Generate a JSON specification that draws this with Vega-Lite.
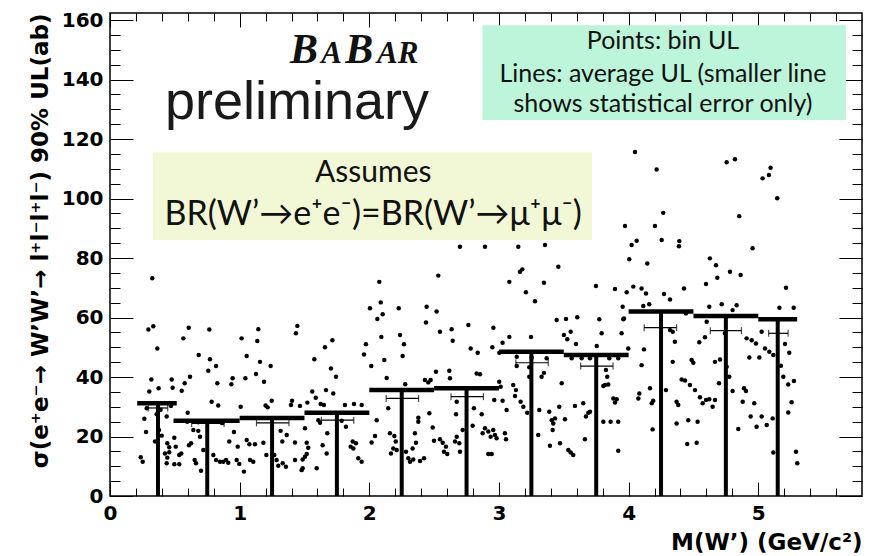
{
  "$schema": "https://vega.github.io/schema/vega-lite/v6.json",
  "width": 752,
  "height": 483,
  "autosize": {"type": "none"},
  "padding": {"left": 110, "top": 13, "right": 10, "bottom": 60},
  "background": "white",
  "config": {
    "view": {"stroke": "black", "strokeWidth": 1.5},
    "axis": {"domain": false, "grid": false, "tickColor": "black", "tickWidth": 1, "tickOpacity": 1, "labelColor": "black", "titleColor": "black", "labelFont": "DejaVu Sans", "labelFontWeight": "bold", "labelFontSize": 20, "labelFlush": false, "titleFont": "DejaVu Sans", "titleFontWeight": "bold", "titleFontSize": 23}
  },
  "datasets": {
    "bins": [
      {"c": 0.37, "lo": 0.21, "hi": 0.515, "base": 0, "avg": 31.2, "stat": 29.6, "s1": 0.295, "s2": 0.445},
      {"c": 0.75, "lo": 0.49, "hi": 1.0, "base": 0, "avg": 25.3, "stat": 24.4, "s1": 0.63, "s2": 0.88},
      {"c": 1.25, "lo": 1.0, "hi": 1.5, "base": 0, "avg": 26.2, "stat": 24.6, "s1": 1.13, "s2": 1.38},
      {"c": 1.75, "lo": 1.5, "hi": 2.0, "base": 0, "avg": 28.0, "stat": 25.5, "s1": 1.63, "s2": 1.88},
      {"c": 2.25, "lo": 2.0, "hi": 2.5, "base": 0, "avg": 35.6, "stat": 32.8, "s1": 2.13, "s2": 2.38},
      {"c": 2.75, "lo": 2.5, "hi": 3.0, "base": 0, "avg": 36.2, "stat": 33.4, "s1": 2.63, "s2": 2.88},
      {"c": 3.25, "lo": 3.0, "hi": 3.5, "base": 0, "avg": 48.5, "stat": 44.8, "s1": 3.13, "s2": 3.38},
      {"c": 3.75, "lo": 3.5, "hi": 4.0, "base": 0, "avg": 47.4, "stat": 43.7, "s1": 3.63, "s2": 3.88},
      {"c": 4.25, "lo": 4.0, "hi": 4.5, "base": 0, "avg": 62.0, "stat": 56.6, "s1": 4.12, "s2": 4.37},
      {"c": 4.75, "lo": 4.5, "hi": 5.0, "base": 0, "avg": 60.5, "stat": 55.6, "s1": 4.63, "s2": 4.87},
      {"c": 5.15, "lo": 5.0, "hi": 5.3, "base": 0, "avg": 59.4, "stat": 54.7, "s1": 5.08, "s2": 5.23}
    ],
    "pts": [
      {"m":0.326,"ul":73.2},{"m":0.296,"ul":56.0},{"m":0.334,"ul":57.1},{"m":0.365,"ul":49.6},{"m":0.319,"ul":39.2},{"m":0.303,"ul":35.1},{"m":0.375,"ul":36.2},{"m":0.476,"ul":39.2},{"m":0.483,"ul":36.4},{"m":0.265,"ul":26.0},{"m":0.278,"ul":21.5},{"m":0.237,"ul":13.0},{"m":0.252,"ul":11.5},{"m":0.347,"ul":18.3},{"m":0.378,"ul":22.2},{"m":0.399,"ul":20.3},{"m":0.442,"ul":17.7},{"m":0.457,"ul":16.4},{"m":0.424,"ul":14.3},{"m":0.457,"ul":14.7},{"m":0.442,"ul":12.9},{"m":0.437,"ul":11.0},{"m":0.496,"ul":19.6},{"m":0.507,"ul":16.6},{"m":0.496,"ul":10.7},{"m":0.283,"ul":29.5},{"m":0.437,"ul":26.7},{"m":0.36,"ul":27.5},{"m":0.39,"ul":29.0},{"m":0.47,"ul":30.3},
      {"m":0.553,"ul":35.4},{"m":0.576,"ul":37.9},{"m":0.617,"ul":40.1},{"m":0.566,"ul":53.0},{"m":0.607,"ul":56.6},{"m":0.684,"ul":47.4},{"m":0.766,"ul":56.0},{"m":0.771,"ul":46.0},{"m":0.818,"ul":43.7},{"m":0.758,"ul":42.1},{"m":0.828,"ul":37.9},{"m":0.784,"ul":31.7},{"m":0.835,"ul":30.4},{"m":0.599,"ul":28.0},{"m":0.946,"ul":39.6},{"m":0.936,"ul":37.6},{"m":0.534,"ul":10.7},{"m":0.534,"ul":13.8},{"m":0.55,"ul":14.3},{"m":0.596,"ul":25.0},{"m":0.609,"ul":17.1},{"m":0.625,"ul":17.7},{"m":0.643,"ul":22.2},{"m":0.681,"ul":21.9},{"m":0.694,"ul":19.9},{"m":0.653,"ul":12.1},{"m":0.663,"ul":11.0},{"m":0.702,"ul":8.5},{"m":0.72,"ul":15.5},{"m":0.797,"ul":13.8},{"m":0.818,"ul":12.1},{"m":0.848,"ul":11.5},{"m":0.874,"ul":11.5},{"m":0.895,"ul":12.1},{"m":0.912,"ul":11.2},{"m":0.92,"ul":18.3},{"m":0.956,"ul":21.5},{"m":0.985,"ul":16.6},{"m":0.977,"ul":12.1},{"m":0.997,"ul":10.8},{"m":0.68,"ul":24.8},{"m":0.865,"ul":24.5},
      {"m":1.015,"ul":53.0},{"m":1.054,"ul":47.1},{"m":1.144,"ul":56.1},{"m":1.136,"ul":52.1},{"m":1.157,"ul":45.1},{"m":1.126,"ul":41.0},{"m":1.188,"ul":38.4},{"m":1.044,"ul":39.6},{"m":1.008,"ul":30.0},{"m":1.2,"ul":30.4},{"m":1.216,"ul":29.8},{"m":1.239,"ul":43.7},{"m":1.247,"ul":32.0},{"m":1.445,"ul":57.2},{"m":1.434,"ul":54.7},{"m":1.404,"ul":32.0},{"m":1.396,"ul":30.6},{"m":1.465,"ul":30.3},{"m":1.033,"ul":8.2},{"m":1.054,"ul":18.8},{"m":1.075,"ul":17.4},{"m":1.118,"ul":17.4},{"m":1.08,"ul":12.1},{"m":1.105,"ul":11.5},{"m":1.183,"ul":17.9},{"m":1.206,"ul":13.8},{"m":1.267,"ul":13.8},{"m":1.285,"ul":12.1},{"m":1.298,"ul":10.2},{"m":1.316,"ul":21.9},{"m":1.329,"ul":18.3},{"m":1.363,"ul":20.5},{"m":1.332,"ul":11.0},{"m":1.357,"ul":9.8},{"m":1.427,"ul":18.0},{"m":1.427,"ul":12.1},{"m":1.478,"ul":8.7},{"m":1.486,"ul":12.3},
      {"m":1.522,"ul":31.4},{"m":1.517,"ul":17.9},{"m":1.517,"ul":14.1},{"m":1.576,"ul":46.0},{"m":1.658,"ul":50.0},{"m":1.715,"ul":52.4},{"m":1.704,"ul":42.9},{"m":1.743,"ul":40.1},{"m":1.56,"ul":35.1},{"m":1.587,"ul":33.0},{"m":1.666,"ul":35.6},{"m":1.722,"ul":34.5},{"m":1.625,"ul":30.9},{"m":1.65,"ul":30.6},{"m":1.812,"ul":30.6},{"m":1.882,"ul":30.9},{"m":1.941,"ul":30.6},{"m":1.504,"ul":22.8},{"m":1.607,"ul":25.5},{"m":1.676,"ul":21.1},{"m":1.62,"ul":24.6},{"m":1.529,"ul":16.2},{"m":1.504,"ul":13.2},{"m":1.486,"ul":9.3},{"m":1.594,"ul":9.3},{"m":1.64,"ul":17.1},{"m":1.671,"ul":14.3},{"m":1.787,"ul":25.3},{"m":1.82,"ul":23.3},{"m":1.872,"ul":18.3},{"m":1.897,"ul":17.7},{"m":1.877,"ul":16.0},{"m":1.856,"ul":16.6},{"m":1.915,"ul":12.7},{"m":1.941,"ul":11.5},
      {"m":2.077,"ul":72.0},{"m":2.005,"ul":63.1},{"m":2.088,"ul":65.1},{"m":2.062,"ul":59.5},{"m":2.103,"ul":61.1},{"m":2.227,"ul":63.1},{"m":2.237,"ul":54.1},{"m":2.093,"ul":53.5},{"m":2.267,"ul":51.0},{"m":2.257,"ul":47.1},{"m":1.974,"ul":51.0},{"m":1.959,"ul":47.6},{"m":2.015,"ul":43.7},{"m":2.116,"ul":45.7},{"m":2.134,"ul":39.7},{"m":2.277,"ul":37.6},{"m":2.442,"ul":63.6},{"m":2.437,"ul":58.3},{"m":2.429,"ul":39.0},{"m":2.455,"ul":38.2},{"m":2.473,"ul":39.0},{"m":2.018,"ul":18.0},{"m":2.044,"ul":20.2},{"m":2.057,"ul":25.5},{"m":2.146,"ul":29.5},{"m":2.159,"ul":21.1},{"m":2.193,"ul":20.2},{"m":2.204,"ul":18.3},{"m":2.185,"ul":16.0},{"m":2.167,"ul":14.3},{"m":2.211,"ul":15.5},{"m":2.283,"ul":14.9},{"m":2.301,"ul":12.7},{"m":2.314,"ul":11.5},{"m":2.339,"ul":12.3},{"m":2.352,"ul":21.1},{"m":2.36,"ul":17.9},{"m":2.334,"ul":16.0},{"m":2.378,"ul":26.3},{"m":2.378,"ul":25.0},{"m":2.391,"ul":11.8},{"m":2.422,"ul":12.7},{"m":2.463,"ul":27.8},{"m":2.489,"ul":23.0},{"m":2.499,"ul":18.6},
      {"m":2.532,"ul":74.1},{"m":2.519,"ul":62.0},{"m":2.545,"ul":55.2},{"m":2.635,"ul":56.1},{"m":2.643,"ul":52.2},{"m":2.764,"ul":57.5},{"m":2.782,"ul":49.6},{"m":2.836,"ul":48.2},{"m":2.957,"ul":56.6},{"m":2.949,"ul":50.0},{"m":2.514,"ul":41.8},{"m":2.617,"ul":42.1},{"m":2.622,"ul":39.6},{"m":2.828,"ul":41.2},{"m":2.854,"ul":40.9},{"m":2.545,"ul":19.1},{"m":2.566,"ul":17.9},{"m":2.591,"ul":16.6},{"m":2.576,"ul":14.9},{"m":2.601,"ul":14.1},{"m":2.661,"ul":18.3},{"m":2.674,"ul":19.9},{"m":2.694,"ul":17.7},{"m":2.669,"ul":27.5},{"m":2.674,"ul":31.7},{"m":2.72,"ul":22.2},{"m":2.699,"ul":14.9},{"m":2.807,"ul":29.5},{"m":2.797,"ul":23.6},{"m":2.867,"ul":27.5},{"m":2.874,"ul":21.1},{"m":2.892,"ul":22.8},{"m":2.918,"ul":21.7},{"m":2.936,"ul":19.9},{"m":2.918,"ul":14.1},{"m":2.944,"ul":14.1},{"m":2.964,"ul":32.3},{"m":2.956,"ul":22.2},{"m":2.969,"ul":20.5},{"m":2.982,"ul":19.4},{"m":2.699,"ul":83.8},{"m":2.892,"ul":83.8},
      {"m":3.003,"ul":48.2},{"m":3.08,"ul":72.0},{"m":3.162,"ul":75.4},{"m":3.18,"ul":76.2},{"m":3.208,"ul":68.5},{"m":3.278,"ul":65.5},{"m":3.347,"ul":71.7},{"m":3.458,"ul":77.1},{"m":3.445,"ul":59.2},{"m":3.247,"ul":53.5},{"m":3.08,"ul":53.5},{"m":3.028,"ul":51.5},{"m":3.501,"ul":54.1},{"m":3.137,"ul":46.8},{"m":3.252,"ul":46.5},{"m":3.368,"ul":46.3},{"m":3.137,"ul":43.7},{"m":3.234,"ul":43.3},{"m":3.329,"ul":40.1},{"m":3.347,"ul":41.4},{"m":3.234,"ul":40.1},{"m":3.002,"ul":38.4},{"m":3.013,"ul":36.7},{"m":3.11,"ul":37.3},{"m":3.131,"ul":35.6},{"m":3.124,"ul":33.6},{"m":3.484,"ul":37.9},{"m":3.028,"ul":32.0},{"m":3.059,"ul":28.9},{"m":3.167,"ul":31.7},{"m":3.188,"ul":30.0},{"m":3.218,"ul":28.0},{"m":3.311,"ul":28.9},{"m":3.388,"ul":28.3},{"m":3.407,"ul":25.5},{"m":3.432,"ul":26.1},{"m":3.419,"ul":24.4},{"m":3.414,"ul":22.2},{"m":3.465,"ul":30.0},{"m":3.303,"ul":20.5},{"m":3.393,"ul":16.9},{"m":3.471,"ul":17.7},{"m":3.046,"ul":21.1},{"m":3.054,"ul":19.1},{"m":3.149,"ul":83.8},{"m":3.355,"ul":84.4},
      {"m":3.517,"ul":59.5},{"m":3.604,"ul":60.1},{"m":3.553,"ul":55.2},{"m":3.527,"ul":52.7},{"m":3.594,"ul":51.1},{"m":3.748,"ul":70.6},{"m":3.895,"ul":69.6},{"m":3.985,"ul":68.5},{"m":3.774,"ul":59.4},{"m":3.959,"ul":59.4},{"m":3.792,"ul":54.7},{"m":3.946,"ul":54.7},{"m":3.754,"ul":50.4},{"m":3.997,"ul":49.6},{"m":3.561,"ul":46.3},{"m":3.638,"ul":46.3},{"m":3.702,"ul":46.3},{"m":3.851,"ul":46.3},{"m":3.92,"ul":46.3},{"m":3.825,"ul":42.4},{"m":3.835,"ul":40.1},{"m":3.805,"ul":37.0},{"m":3.818,"ul":37.3},{"m":3.843,"ul":37.5},{"m":3.882,"ul":32.8},{"m":3.908,"ul":32.5},{"m":3.895,"ul":31.4},{"m":3.509,"ul":25.8},{"m":3.586,"ul":30.3},{"m":3.65,"ul":31.2},{"m":3.689,"ul":28.0},{"m":3.671,"ul":26.7},{"m":3.702,"ul":28.3},{"m":3.805,"ul":25.0},{"m":3.861,"ul":25.0},{"m":3.92,"ul":25.0},{"m":3.535,"ul":15.5},{"m":3.553,"ul":14.6},{"m":3.573,"ul":13.8},{"m":3.663,"ul":19.1},{"m":3.92,"ul":15.2},{"m":3.972,"ul":90.8},{"m":3.954,"ul":63.6},{"m":3.964,"ul":59.7},
      {"m":4.036,"ul":70.4},{"m":4.1,"ul":69.8},{"m":4.134,"ul":68.1},{"m":4.005,"ul":79.6},{"m":4.144,"ul":78.2},{"m":4.023,"ul":84.4},{"m":4.062,"ul":85.8},{"m":4.255,"ul":86.1},{"m":4.273,"ul":67.9},{"m":4.319,"ul":66.1},{"m":4.118,"ul":49.3},{"m":4.1,"ul":44.0},{"m":4.34,"ul":45.1},{"m":4.357,"ul":51.9},{"m":4.34,"ul":55.2},{"m":4.319,"ul":55.8},{"m":4.082,"ul":34.5},{"m":4.075,"ul":32.8},{"m":4.165,"ul":36.2},{"m":4.19,"ul":32.0},{"m":4.178,"ul":31.2},{"m":4.185,"ul":22.4},{"m":4.288,"ul":35.6},{"m":4.37,"ul":31.7},{"m":4.37,"ul":24.4},{"m":4.049,"ul":115.7},{"m":4.216,"ul":109.8},{"m":4.267,"ul":95.2},{"m":4.203,"ul":90.8},{"m":4.391,"ul":85.7},{"m":4.388,"ul":84.0},{"m":4.113,"ul":63.9},{"m":4.159,"ul":64.5},{"m":4.442,"ul":61.4},{"m":4.427,"ul":69.8},{"m":4.409,"ul":39.2},{"m":4.435,"ul":38.8},{"m":4.473,"ul":37.3},{"m":4.383,"ul":30.6},{"m":4.46,"ul":25.5},{"m":4.452,"ul":17.5},{"m":4.486,"ul":45.7},{"m":4.499,"ul":44.8},
      {"m":4.532,"ul":25.0},{"m":4.525,"ul":17.9},{"m":4.512,"ul":35.6},{"m":4.55,"ul":33.2},{"m":4.571,"ul":31.2},{"m":4.597,"ul":32.3},{"m":4.622,"ul":32.5},{"m":4.648,"ul":30.0},{"m":4.666,"ul":32.3},{"m":4.697,"ul":37.9},{"m":4.545,"ul":51.7},{"m":4.589,"ul":53.4},{"m":4.666,"ul":45.1},{"m":4.705,"ul":45.9},{"m":4.756,"ul":43.5},{"m":4.776,"ul":40.1},{"m":4.602,"ul":58.6},{"m":4.622,"ul":63.6},{"m":4.718,"ul":64.5},{"m":4.833,"ul":64.1},{"m":4.802,"ul":62.5},{"m":4.597,"ul":71.3},{"m":4.627,"ul":79.9},{"m":4.674,"ul":77.6},{"m":4.684,"ul":73.4},{"m":4.782,"ul":75.4},{"m":4.864,"ul":74.3},{"m":4.756,"ul":112.2},{"m":4.82,"ul":113.2},{"m":4.853,"ul":94.1},{"m":4.956,"ul":83.3},{"m":4.91,"ul":53.0},{"m":4.949,"ul":52.4},{"m":4.982,"ul":51.3},{"m":4.931,"ul":46.6},{"m":4.802,"ul":35.3},{"m":4.89,"ul":36.2},{"m":4.905,"ul":35.3},{"m":4.88,"ul":31.7},{"m":4.969,"ul":31.2},{"m":4.941,"ul":26.7},{"m":4.987,"ul":23.3},{"m":4.846,"ul":22.5},{"m":4.743,"ul":54.7},
      {"m":5.095,"ul":110.4},{"m":5.033,"ul":106.8},{"m":5.082,"ul":107.9},{"m":5.146,"ul":100.1},{"m":5.214,"ul":70.0},{"m":5.163,"ul":63.3},{"m":5.273,"ul":63.3},{"m":5.026,"ul":55.2},{"m":5.052,"ul":49.6},{"m":5.085,"ul":48.5},{"m":5.008,"ul":46.6},{"m":5.116,"ul":47.4},{"m":5.175,"ul":43.8},{"m":5.193,"ul":40.1},{"m":5.239,"ul":48.2},{"m":5.206,"ul":51.1},{"m":5.231,"ul":37.5},{"m":5.275,"ul":38.7},{"m":5.257,"ul":31.5},{"m":5.231,"ul":28.1},{"m":5.291,"ul":14.9},{"m":5.301,"ul":11.0},{"m":5.116,"ul":14.6},{"m":5.111,"ul":26.1},{"m":5.026,"ul":26.7},{"m":5.065,"ul":23.9}
    ],
    "boxes": [
      {"name": "assume", "x1": 0.33, "x2": 3.717, "y1": 86.1, "y2": 115.6},
      {"name": "legend", "x1": 2.873, "x2": 5.676, "y1": 126.4, "y2": 158.3}
    ]
  },
  "layer": [
    {
      "data": {"name": "boxes"},
      "transform": [{"filter": "datum.name == 'assume'"}],
      "mark": {"type": "rect", "fill": "#f2f8d6"},
      "encoding": {
        "x": {"field": "x1", "type": "quantitative", "scale": {"domain": [0, 5.8], "nice": false, "zero": false}, "axis": null},
        "x2": {"field": "x2"},
        "y": {"field": "y1", "type": "quantitative", "scale": {"domain": [0, 162.4], "nice": false, "zero": false}, "axis": null},
        "y2": {"field": "y2"}
      }
    },
    {
      "data": {"name": "boxes"},
      "transform": [{"filter": "datum.name == 'legend'"}],
      "mark": {"type": "rect", "fill": "#bcf5da"},
      "encoding": {
        "x": {"field": "x1", "type": "quantitative", "axis": null},
        "x2": {"field": "x2"},
        "y": {"field": "y1", "type": "quantitative", "axis": null},
        "y2": {"field": "y2"}
      }
    },
    {
      "data": {"name": "pts"},
      "mark": {"type": "circle", "color": "black", "opacity": 1, "size": 20},
      "encoding": {
        "x": {"field": "m", "type": "quantitative", "scale": {"domain": [0, 5.8], "nice": false, "zero": false},
          "axis": {"orient": "bottom", "values": [0, 1, 2, 3, 4, 5], "ticks": false, "labelPadding": 7, "format": "d",
            "title": "M(W’) (GeV/c²)", "titleX": 752, "titleY": 46, "titleAlign": "right", "titleBaseline": "middle"}},
        "y": {"field": "ul", "type": "quantitative", "scale": {"domain": [0, 162.4], "nice": false, "zero": false},
          "axis": {"orient": "left", "values": [0, 20, 40, 60, 80, 100, 120, 140, 160], "ticks": false, "labelPadding": 7, "format": "d",
            "title": "σ(e⁺e⁻→ W’W’→ l⁺l⁻l⁺l⁻) 90% UL(ab)", "titleX": -63, "titleY": 0, "titleAngle": -90, "titleAlign": "right", "titleBaseline": "alphabetic"}}
      }
    },
    {
      "data": {"name": "bins"},
      "mark": {"type": "rule", "color": "black", "strokeWidth": 4.5},
      "encoding": {
        "x": {"field": "lo", "type": "quantitative",
          "axis": {"orient": "top", "offset": -483, "values": [0, 1, 2, 3, 4, 5], "ticks": true, "tickSize": 14, "labels": false, "title": null}},
        "x2": {"field": "hi"},
        "y": {"field": "avg", "type": "quantitative",
          "axis": {"orient": "right", "offset": -752, "values": [0, 20, 40, 60, 80, 100, 120, 140, 160], "ticks": true, "tickSize": 23, "labels": false, "title": null}}
      }
    },
    {
      "data": {"name": "bins"},
      "mark": {"type": "rule", "color": "black", "strokeWidth": 4},
      "encoding": {
        "x": {"field": "c", "type": "quantitative",
          "axis": {"orient": "bottom", "offset": -483, "values": [0, 1, 2, 3, 4, 5], "ticks": true, "tickSize": 14, "labels": false, "title": null}},
        "y": {"field": "base", "type": "quantitative",
          "axis": {"orient": "left", "offset": -752, "values": [0, 20, 40, 60, 80, 100, 120, 140, 160], "ticks": true, "tickSize": 23, "labels": false, "title": null}},
        "y2": {"field": "avg"}
      }
    },
    {
      "data": {"name": "bins"},
      "mark": {"type": "rule", "color": "black", "strokeWidth": 1.2},
      "encoding": {
        "x": {"field": "s1", "type": "quantitative",
          "axis": {"orient": "top", "offset": -483, "values": [0.2,0.4,0.6,0.8,1.2,1.4,1.6,1.8,2.2,2.4,2.6,2.8,3.2,3.4,3.6,3.8,4.2,4.4,4.6,4.8,5.2,5.4,5.6], "ticks": true, "tickSize": 8, "labels": false, "title": null}},
        "x2": {"field": "s2"},
        "y": {"field": "stat", "type": "quantitative",
          "axis": {"orient": "right", "offset": -752, "values": [5,10,15,25,30,35,45,50,55,65,70,75,85,90,95,105,110,115,125,130,135,145,150,155], "ticks": true, "tickSize": 10, "labels": false, "title": null}}
      }
    },
    {
      "data": {"name": "bins"},
      "mark": {"type": "tick", "orient": "vertical", "color": "black", "size": 7, "thickness": 1.2},
      "encoding": {
        "x": {"field": "s1", "type": "quantitative",
          "axis": {"orient": "bottom", "offset": -483, "values": [0.2,0.4,0.6,0.8,1.2,1.4,1.6,1.8,2.2,2.4,2.6,2.8,3.2,3.4,3.6,3.8,4.2,4.4,4.6,4.8,5.2,5.4,5.6], "ticks": true, "tickSize": 8, "labels": false, "title": null}},
        "y": {"field": "stat", "type": "quantitative",
          "axis": {"orient": "left", "offset": -752, "values": [5,10,15,25,30,35,45,50,55,65,70,75,85,90,95,105,110,115,125,130,135,145,150,155], "ticks": true, "tickSize": 10, "labels": false, "title": null}}
      }
    },
    {
      "data": {"name": "bins"},
      "mark": {"type": "tick", "orient": "vertical", "color": "black", "size": 7, "thickness": 1.2},
      "encoding": {
        "x": {"field": "s2", "type": "quantitative", "axis": null},
        "y": {"field": "stat", "type": "quantitative", "axis": null}
      }
    },
    {
      "data": {"values": [{"m": 0.424, "ul": 126.6, "t": "preliminary"}]},
      "mark": {"type": "text", "font": "Liberation Sans", "fontSize": 54, "align": "left", "baseline": "alphabetic", "color": "#1a1a1a"},
      "encoding": {
        "x": {"field": "m", "type": "quantitative", "axis": null},
        "y": {"field": "ul", "type": "quantitative", "axis": null},
        "text": {"field": "t"}
      }
    },
    {
      "data": {"values": [{"m": 1.388, "ul": 145.6, "t": "B"}, {"m": 1.815, "ul": 145.6, "t": "B"}]},
      "mark": {"type": "text", "font": "Liberation Serif", "fontSize": 42, "fontWeight": "bold", "fontStyle": "italic", "align": "left", "baseline": "alphabetic", "color": "#111"},
      "encoding": {
        "x": {"field": "m", "type": "quantitative", "axis": null},
        "y": {"field": "ul", "type": "quantitative", "axis": null},
        "text": {"field": "t"}
      }
    },
    {
      "data": {"values": [{"m": 1.63, "ul": 145.6, "t": "A"}, {"m": 2.06, "ul": 145.6, "t": "AR"}]},
      "mark": {"type": "text", "font": "Liberation Serif", "fontSize": 31, "fontWeight": "bold", "fontStyle": "italic", "align": "left", "baseline": "alphabetic", "color": "#111"},
      "encoding": {
        "x": {"field": "m", "type": "quantitative", "axis": null},
        "y": {"field": "ul", "type": "quantitative", "axis": null},
        "text": {"field": "t"}
      }
    },
    {
      "data": {"values": [{"m": 2.03, "ul": 105.6, "t": "Assumes"}]},
      "mark": {"type": "text", "font": "Lato", "fontSize": 30, "align": "center", "baseline": "alphabetic", "color": "#111"},
      "encoding": {
        "x": {"field": "m", "type": "quantitative", "axis": null},
        "y": {"field": "ul", "type": "quantitative", "axis": null},
        "text": {"field": "t"}
      }
    },
    {
      "data": {"values": [{"m": 2.03, "ul": 91.1, "t": "BR(W’→e⁺e⁻)=BR(W’→μ⁺μ⁻)"}]},
      "mark": {"type": "text", "font": "Lato", "fontSize": 34, "align": "center", "baseline": "alphabetic", "color": "#111"},
      "encoding": {
        "x": {"field": "m", "type": "quantitative", "axis": null},
        "y": {"field": "ul", "type": "quantitative", "axis": null},
        "text": {"field": "t"}
      }
    },
    {
      "data": {"values": [{"m": 4.265, "ul": 150.3, "t": "Points: bin UL"}, {"m": 4.265, "ul": 139.3, "t": "Lines: average UL (smaller line"}, {"m": 4.265, "ul": 129.2, "t": "shows statistical error only)"}]},
      "mark": {"type": "text", "font": "Lato", "fontSize": 25, "align": "center", "baseline": "alphabetic", "color": "#111"},
      "encoding": {
        "x": {"field": "m", "type": "quantitative", "axis": null},
        "y": {"field": "ul", "type": "quantitative", "axis": null},
        "text": {"field": "t"}
      }
    }
  ],
  "resolve": {"axis": {"x": "independent", "y": "independent"}}
}
